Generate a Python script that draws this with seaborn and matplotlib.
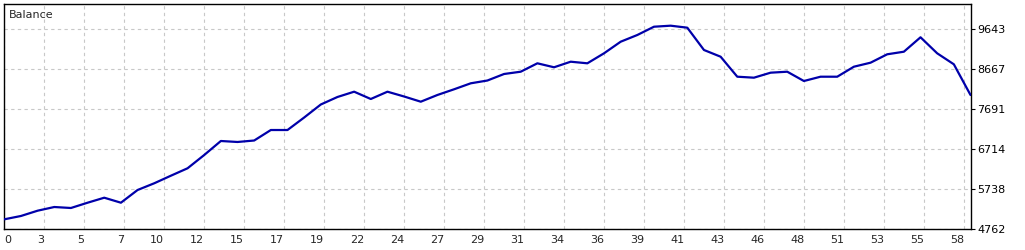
import numpy as np
import pandas as pd
import matplotlib
matplotlib.use("Agg")
import matplotlib.pyplot as plt
import seaborn as sns

# ---- data ----
trade_index = list(range(59))
balance = [5006, 5087, 5216, 5306, 5282, 5411, 5533, 5411, 5721, 5885,
           6070, 6251, 6575, 6917, 6893, 6929, 7185, 7185, 7490, 7808,
           7991, 8120, 7942, 8120, 8003, 7876, 8040, 8179, 8325, 8393,
           8552, 8608, 8813, 8716, 8852, 8813, 9057, 9340, 9504, 9706,
           9731, 9682, 9138, 8974, 8486, 8462, 8584, 8608, 8381, 8486,
           8486, 8730, 8828, 9033, 9096, 9448, 9057, 8789, 8040]
y_ticks = [4762, 5738, 6714, 7691, 8667, 9643]
x_tick_labels = ["0", "3", "5", "7", "10", "12", "15", "17", "19", "22", "24",
                 "27", "29", "31", "34", "36", "39", "41", "43", "46", "48",
                 "51", "53", "55", "58"]
y_top = 10253

df = pd.DataFrame({"trade": trade_index, "balance": balance})

sns.set_style("white")
plt.rcParams["font.family"] = ["DejaVu Sans"]

W, H = 1025, 250
fig = plt.figure(figsize=(W / 100, H / 100), dpi=100)
left_px, right_px, top_px, bottom_px = 4.3, 970.5, 4.3, 229.3
ax = fig.add_axes([left_px / W, 1 - bottom_px / H,
                   (right_px - left_px) / W, (bottom_px - top_px) / H])

sns.lineplot(data=df, x="trade", y="balance", ax=ax, color="#0000AA",
             linewidth=1.6, zorder=3)

n = trade_index[-1]
ax.set_xlim(0, n)
ax.set_ylim(y_ticks[0], y_top)

# x grid every 40 pixels
axes_w = right_px - left_px
step = n * 40.0 / axes_w
xt = [i * step for i in range(len(x_tick_labels))]
ax.set_xticks(xt)
ax.set_xticklabels(x_tick_labels, fontsize=8)
labels = ax.get_xticklabels()
for i, lbl in enumerate(labels):
    lbl.set_horizontalalignment("left" if i == 0 else "right")
ax.tick_params(axis="x", length=0, pad=4)

ax.yaxis.tick_right()
ax.set_yticks(y_ticks)
ax.set_yticklabels([str(v) for v in y_ticks], fontsize=8)
ax.tick_params(axis="y", direction="out", length=3, width=0.8, pad=2,
               colors="black")

ax.grid(True, color="#C8C8C8", linestyle=(0, (3, 3)), linewidth=0.8)
for s in ax.spines.values():
    s.set_visible(True)
    s.set_color("black")
    s.set_linewidth(1.0)

ax.set_xlabel("")
ax.set_ylabel("")

fig.text(9 / W, 1 - 14.5 / H, "Balance", fontsize=8, va="center", ha="left")

fig.savefig("out.png", dpi=100, facecolor="white")
